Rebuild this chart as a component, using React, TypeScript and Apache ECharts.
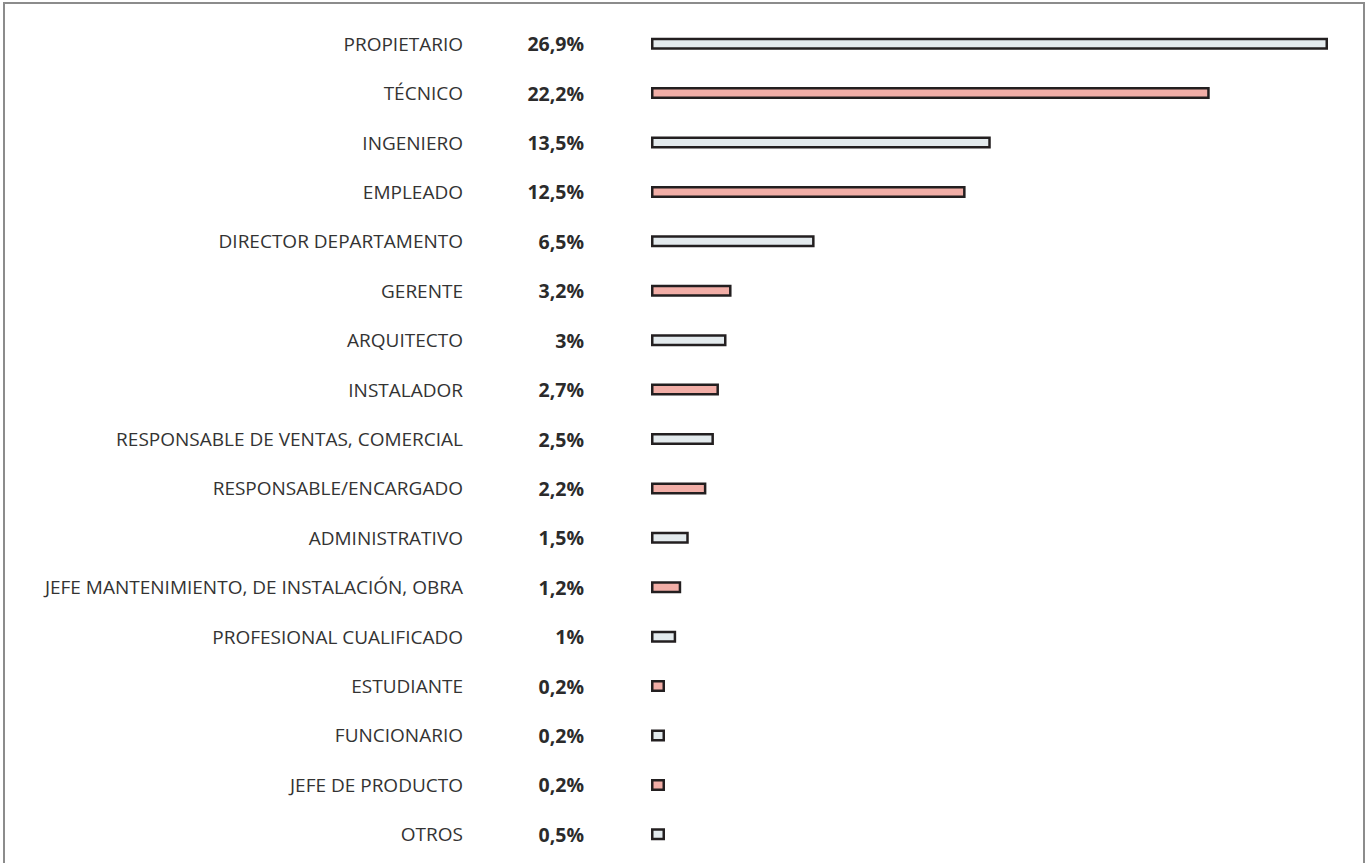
import React, { useEffect, useRef } from "react";
import * as echarts from "echarts";

const categories = [
  "PROPIETARIO",
  "TÉCNICO",
  "INGENIERO",
  "EMPLEADO",
  "DIRECTOR DEPARTAMENTO",
  "GERENTE",
  "ARQUITECTO",
  "INSTALADOR",
  "RESPONSABLE DE VENTAS, COMERCIAL",
  "RESPONSABLE/ENCARGADO",
  "ADMINISTRATIVO",
  "JEFE MANTENIMIENTO, DE INSTALACIÓN, OBRA",
  "PROFESIONAL CUALIFICADO",
  "ESTUDIANTE",
  "FUNCIONARIO",
  "JEFE DE PRODUCTO",
  "OTROS",
];

const values = [26.9, 22.2, 13.5, 12.5, 6.5, 3.2, 3, 2.7, 2.5, 2.2, 1.5, 1.2, 1, 0.2, 0.2, 0.2, 0.5];

const palette = ["#e3eaed", "#f2aea7"];

const fmt = (v: number) => String(v).replace(".", ",") + "%";

export default function App() {
  const ref = useRef<HTMLDivElement>(null);

  useEffect(() => {
    document.body.style.margin = "0";
    const chart = echarts.init(ref.current!, null, { renderer: "svg" });
    const pctLabels = values.map(fmt);
    chart.setOption({
      animation: false,
      backgroundColor: "#ffffff",
      grid: { left: 651, right: 42, top: 19, bottom: 4, containLabel: false },
      xAxis: {
        type: "value",
        min: 0,
        max: "dataMax",
        show: false,
      },
      yAxis: [
        {
          type: "category",
          data: categories,
          inverse: true,
          position: "left",
          axisLine: { show: false },
          axisTick: { show: false },
          axisLabel: {
            margin: 188,
            fontFamily: "Open Sans",
            fontSize: 19,
            fontWeight: "normal",
            color: "#333333",
            align: "right",
          },
        },
        {
          type: "category",
          data: pctLabels,
          inverse: true,
          position: "left",
          axisLine: { show: false },
          axisTick: { show: false },
          axisLabel: {
            margin: 67,
            fontFamily: "Open Sans",
            fontSize: 19.5,
            fontWeight: "bold",
            color: "#2b2b2b",
            align: "right",
          },
        },
      ],
      graphic: [
        {
          type: "rect",
          shape: { x: 4, y: 3, width: 1360, height: 900 },
          style: { fill: "none", stroke: "#8c8c8c", lineWidth: 2 },
          silent: true,
        },
      ],
      series: [
        {
          type: "bar",
          yAxisIndex: 0,
          data: values.map((v, i) => ({
            value: v,
            itemStyle: { color: palette[i % 2] },
          })),
          barWidth: 12,
          barMinHeight: 14,
          itemStyle: { borderColor: "#231f20", borderWidth: 2.5 },
          label: { show: false },
        },
      ],
    });
    return () => chart.dispose();
  }, []);

  return <div ref={ref} style={{ width: 1370, height: 863 }} />;
}
